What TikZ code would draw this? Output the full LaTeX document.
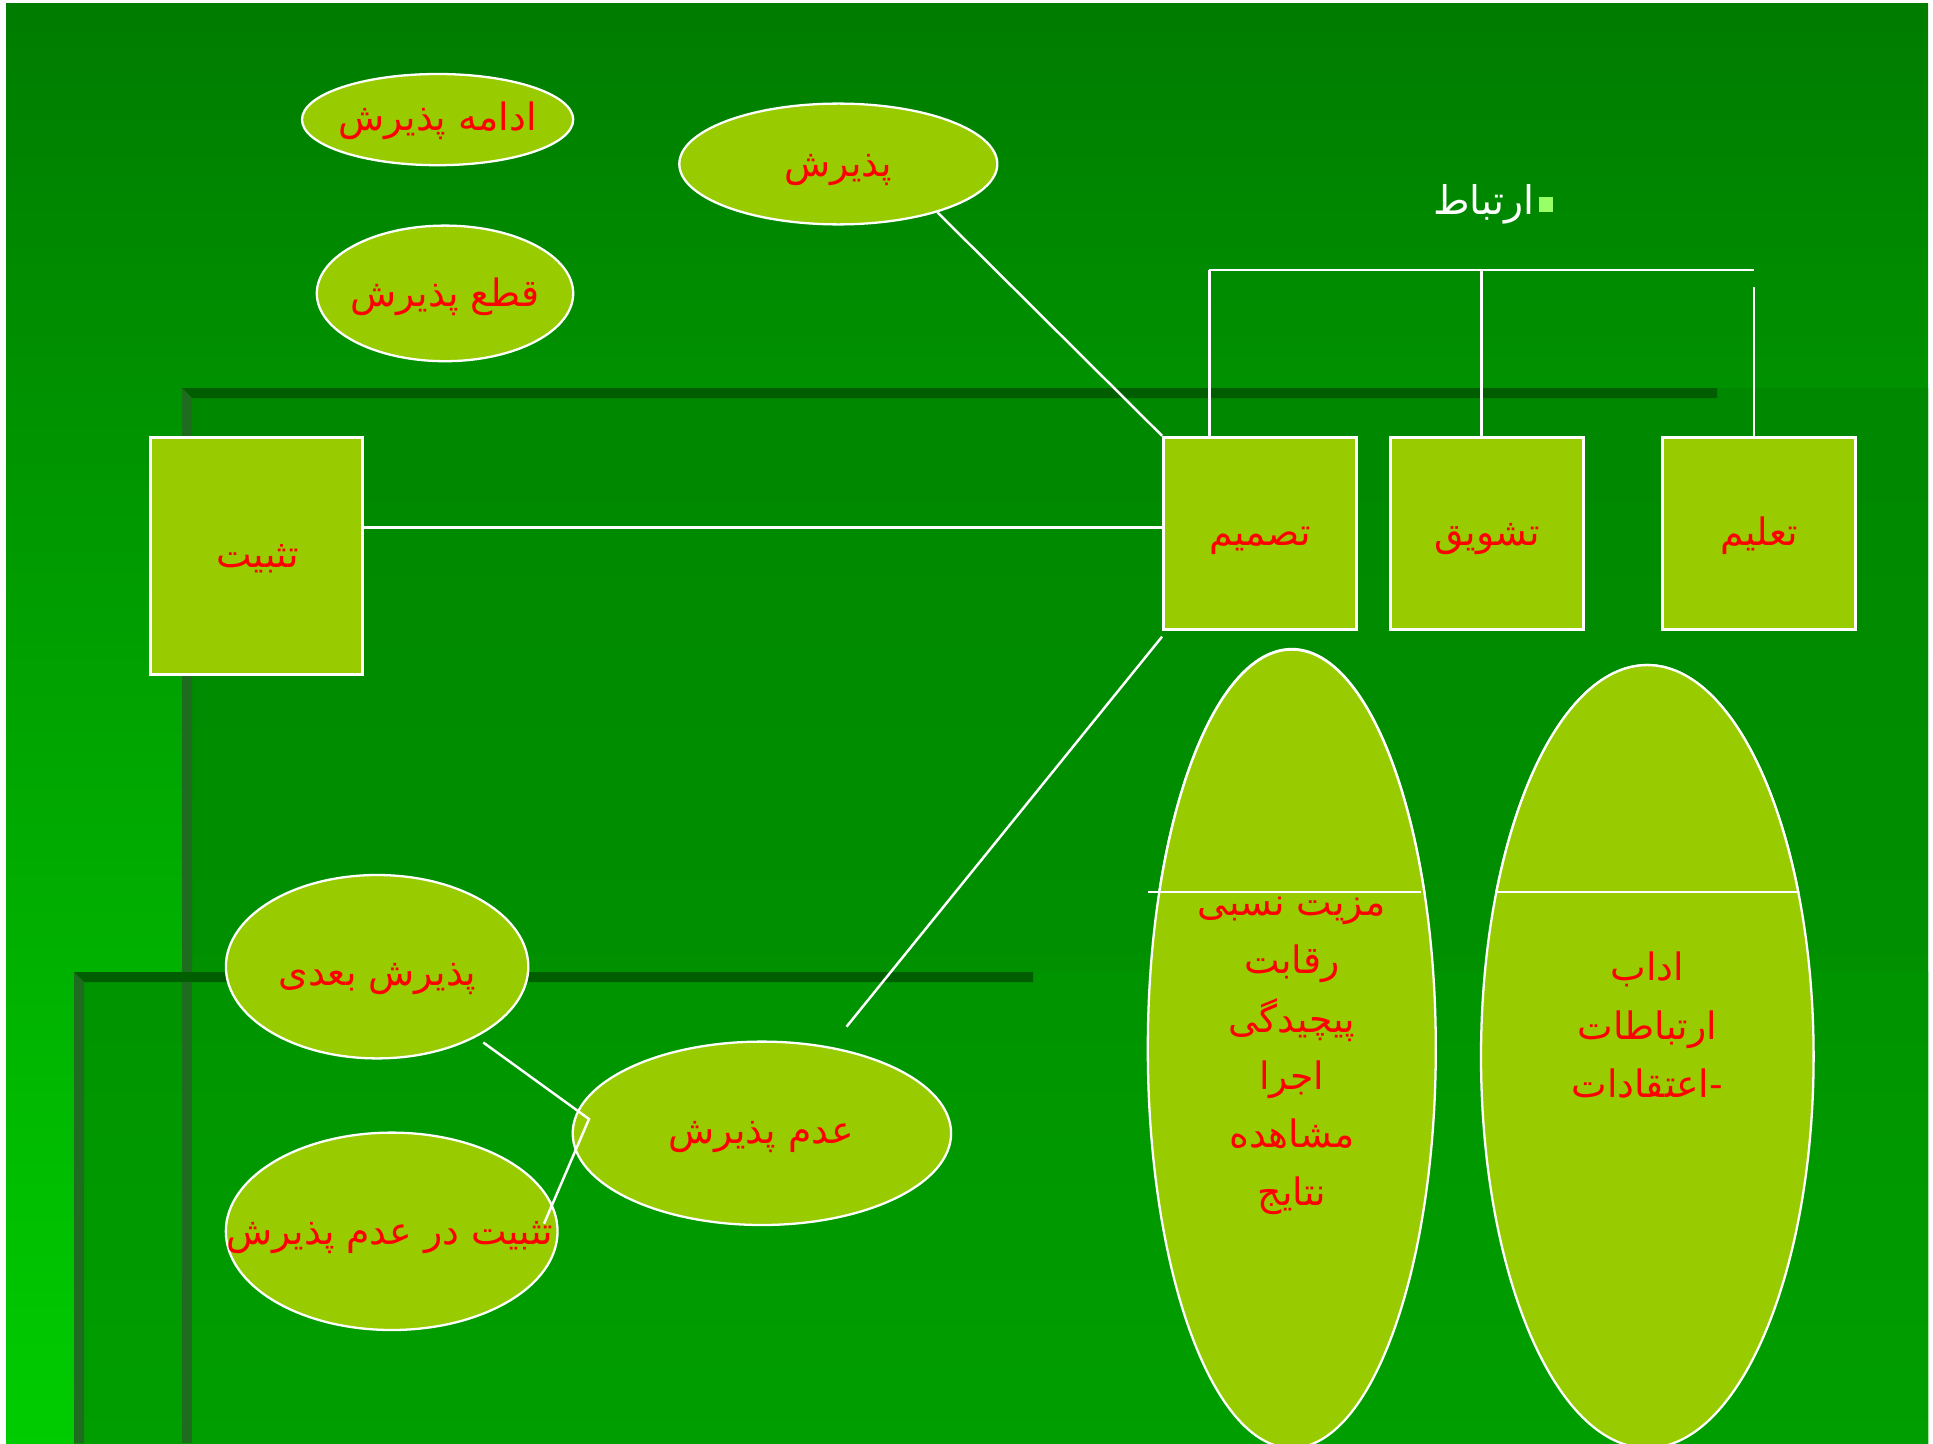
\documentclass[tikz,border=0pt]{standalone}
\usepackage{fontspec}
\usetikzlibrary{shapes.geometric}
\newfontfamily\arabicfont[Script=Arabic]{DejaVu Sans}
\TeXXeTstate=1

\definecolor{leaf}{RGB}{153,204,0}
\definecolor{inkred}{RGB}{255,0,0}
\definecolor{bgtop}{RGB}{0,124,0}
\definecolor{bgbot}{RGB}{0,204,0}
\definecolor{paneltop}{RGB}{0,136,0}
\definecolor{panelbot}{RGB}{0,150,0}
\definecolor{lowtop}{RGB}{0,148,0}
\definecolor{lowbot}{RGB}{0,158,0}
\definecolor{rimdark}{RGB}{0,94,0}
\definecolor{rimlight}{RGB}{30,108,30}
\definecolor{bulletgreen}{RGB}{153,255,102}

\begin{document}
\begin{tikzpicture}[x=0.02cm,y=-0.02cm,
  oval/.style={ellipse, draw=white, line width=1.3pt, fill=leaf, inner sep=0pt},
  card/.style={rectangle, draw=white, line width=1.6pt, fill=leaf, inner sep=0pt},
  link/.style={draw=white, line width=1.4pt},
  lbl/.style={text=inkred, font=\arabicfont\fontsize{21.5}{25}\selectfont, inner sep=0pt, anchor=base}
]
\useasboundingbox (0,0) rectangle (1933,1443);

% slide background with its white rim
\fill[white] (0,0) rectangle (1933,1443);
\shade[top color=bgtop, bottom color=bgbot] (6,4) rectangle (1928,1443);

% upper panel
\shade[top color=paneltop, bottom color=panelbot] (182,388) rectangle (1928,1443);
\fill[rimdark] (182,388) -- (1717,388) -- (1717,398) -- (192,398) -- cycle;
\fill[rimlight] (182,388) -- (192,398) -- (192,1443) -- (182,1443) -- cycle;

% lower panel
\shade[top color=lowtop, bottom color=lowbot] (74,972) rectangle (1928,1443);
\fill[rimdark] (74,972) -- (1033,972) -- (1033,982) -- (84,982) -- cycle;
\fill[rimlight] (74,972) -- (84,982) -- (84,1443) -- (74,1443) -- cycle;
\fill[rimlight] (182,982) rectangle (192,1443);

% ellipses and boxes
\node[oval, minimum width=271.2*0.02cm, minimum height=91.2*0.02cm] (adame) at (437.6,119.6) {};
\node[oval, minimum width=256.4*0.02cm, minimum height=135.6*0.02cm] (qat) at (445,293.4) {};
\node[oval, minimum width=318*0.02cm, minimum height=120.8*0.02cm] (paz) at (838.3,164) {};

\node[card, minimum width=212*0.02cm, minimum height=236.7*0.02cm] (sabit) at (256.4,556) {};
\node[card, minimum width=193*0.02cm, minimum height=192*0.02cm] (tasmim) at (1260,533.2) {};
\node[card, minimum width=193*0.02cm, minimum height=192*0.02cm] (tashvigh) at (1486.7,533.2) {};
\node[card, minimum width=193*0.02cm, minimum height=192*0.02cm] (talim) at (1759,533.2) {};

\node[oval, minimum width=302.4*0.02cm, minimum height=183.4*0.02cm] (badi) at (377.1,966.7) {};
\node[oval, minimum width=378.4*0.02cm, minimum height=183.4*0.02cm] (adam) at (761.9,1133.3) {};
\node[oval, minimum width=331.7*0.02cm, minimum height=197.4*0.02cm] (sabitadam) at (391.7,1231.3) {};

\node[oval, minimum width=288*0.02cm, minimum height=799*0.02cm] (mazit) at (1291.8,1048.5) {};
\node[oval, minimum width=332.6*0.02cm, minimum height=783*0.02cm] (adab) at (1647.3,1056.5) {};

% labels
\node[lbl] at (437.6,131) {\beginR ادامه پذیرش\endR};
\node[lbl] at (445.3,306) {\beginR قطع پذیرش\endR};
\node[lbl] at (838.3,176) {\beginR پذیرش\endR};
\node[lbl] at (257.7,567) {\beginR تثبیت\endR};
\node[lbl] at (1260,545) {\beginR تصمیم\endR};
\node[lbl] at (1487,545) {\beginR تشویق\endR};
\node[lbl] at (1759,545) {\beginR تعلیم\endR};
\node[lbl] at (377.5,985) {\beginR پذیرش بعدی\endR};
\node[lbl] at (761,1143) {\beginR عدم پذیرش\endR};
\node[lbl] at (390,1244) {\beginR تثبیت در عدم پذیرش\endR};

\node[lbl] at (1291.8,915) {\beginR مزیت نسبی\endR};
\node[lbl] at (1291.8,973) {\beginR رقابت\endR};
\node[lbl] at (1291.8,1032) {\beginR پیچیدگی\endR};
\node[lbl] at (1291.8,1089) {\beginR اجرا\endR};
\node[lbl] at (1291.8,1147) {\beginR مشاهده\endR};
\node[lbl] at (1291.8,1205) {\beginR نتایج\endR};

\node[lbl] at (1647.3,980) {\beginR اداب\endR};
\node[lbl] at (1647.3,1039) {\beginR ارتباطات\endR};
\node[lbl] at (1647.3,1097) {\beginR -اعتقادات\endR};

% caps of the two tall ellipses, laid over their first lines
\begin{scope}
  \clip (1100,600) rectangle (1460,892);
  \fill[leaf, draw=white, line width=1.3pt] (mazit.center) ellipse [x radius=2.88cm, y radius=7.98cm];
\end{scope}
\begin{scope}
  \clip (1470,600) rectangle (1830,892);
  \fill[leaf, draw=white, line width=1.3pt] (adab.center) ellipse [x radius=3.326cm, y radius=7.83cm];
\end{scope}
\coordinate (cutA) at (1147.7,892);
\coordinate (cutB) at (1421.4,892);
\coordinate (cutC) at (1495.4,892);
\coordinate (cutD) at (1798.6,892);
\draw[link] (cutA) -- (cutB);
\draw[link] (cutC) -- (cutD);

% heading with its bullet
\node[text=white, font=\arabicfont\fontsize{22.5}{26}\selectfont, inner sep=0pt, anchor=base east] (head) at (1535,214) {\beginR ارتباط\endR};
\fill[bulletgreen] (1539,197) rectangle (1553,212);

% connectors
\draw[link] (paz.-26) -- (tasmim.north west);
\coordinate (hline) at ([yshift=0.112cm]tasmim.west);
\draw[link] (hline) -- (hline -| sabit.east);
\coordinate (dropstart) at ([yshift=-0.12cm]tasmim.south west);
\coordinate (dropend) at (846.5,1026.7);
\draw[link] (dropstart) -- (dropend);

\coordinate (brL) at (1209.4,270);
\coordinate (brM) at (1481.5,270);
\coordinate (brR) at (1753.8,270);
\coordinate (brRtop) at (1753.8,287);
\draw[link] (brL) -- (brR);
\draw[link] (brL) -- (brL |- tasmim.north);
\draw[link] (brM) -- (brM |- tashvigh.north);
\draw[link] (brRtop) -- (brRtop |- talim.north);

\coordinate (kA) at (483.3,1042.5);
\coordinate (kB) at (589,1119);
\coordinate (kC) at (544,1223.7);
\draw[link] (kA) -- (kB) -- (kC);
\end{tikzpicture}
\end{document}
